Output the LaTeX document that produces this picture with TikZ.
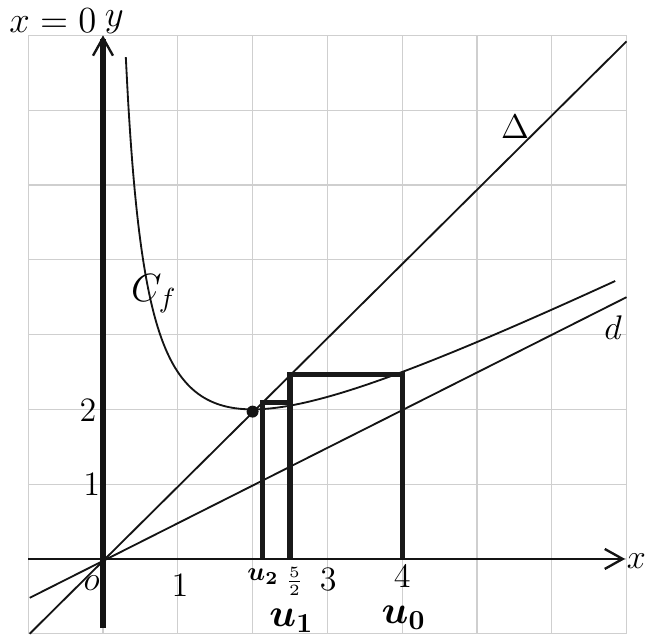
\documentclass[tikz,border=0pt]{standalone}
\usepackage{fix-cm}
\usepackage{amsmath}
\usetikzlibrary{arrows.meta}
\begin{document}
\begin{tikzpicture}[x=1cm,y=1cm,
  gridline/.style={draw=gray!38, line width=0.45pt},
  thinline/.style={draw=black!92, line width=0.7pt},
  stair/.style={draw=black!90, line width=2pt},
  lab/.style={inner sep=0pt, font=\fontsize{13}{15}\selectfont},
  smalllab/.style={inner sep=0pt, font=\fontsize{10}{11}\selectfont},
  biglab/.style={inner sep=0pt, font=\fontsize{15}{17}\selectfont},
  barb/.style={-{Straight Barb[length=6.8pt,width=7.6pt,line width=0.9pt]}}]
\useasboundingbox (-1.377,-1.043) rectangle (7.30,7.473);
% grid
\draw[gridline] (-1,-1) grid (7,7);
% lines Delta and d
\coordinate (D1) at (-0.98,-1); \coordinate (D2) at (7,6.92);
\draw[thinline] (D1) -- (D2);
\coordinate (d1) at (-0.98,-0.52); \coordinate (d2) at (7,3.5);
\draw[thinline] (d1) -- (d2);
% curve C_f
\draw[thinline] plot[domain=0.305:6.85, samples=220, smooth] (\x,{\x/2+2/\x});
% staircase
\coordinate (A0) at (4,0); \coordinate (A1) at (4,2.47);
\coordinate (B1) at (2.5,2.47); \coordinate (B0) at (2.5,0);
\coordinate (C1) at (2.5,2.09); \coordinate (C2) at (2.13,2.09);
\coordinate (C0) at (2.13,0);
\draw[stair, line join=miter] (A0) -- (A1) -- (B1) -- (B0);
\draw[stair, line join=miter] (C1) -- (C2) -- (C0);
\fill[black!92] (2,1.97) circle (0.08);
% axes
\coordinate (xa) at (-1,0); \coordinate (xb) at (6.98,0);
\coordinate (ya) at (0,-0.92); \coordinate (yb) at (0,7);
\draw[line width=1.1pt, black!92, barb] (xa) -- (xb);
\draw[line width=2.3pt, black!92, barb] (ya) -- (yb);
% labels
\node[inner sep=0pt, font=\fontsize{14}{16}\selectfont] (lx0) at (-0.67,7.2) {$x=0$};
\node[inner sep=0pt, font=\fontsize{14}{16}\selectfont] (ly) at (0.15,7.18) {$y$};
\node[lab] (lx) at (7.13,-0.03) {$x$};
\node[lab] (lo) at (-0.15,-0.32) {$o$};
\node[lab] (t1) at (1.03,-0.35) {$1$};
\node[smalllab] (tu2) at (2.14,-0.24) {$\boldsymbol{u_2}$};
\node[inner sep=0pt, font=\fontsize{8.5}{10}\selectfont] (t52) at (2.56,-0.3) {$\tfrac{5}{2}$};
\node[lab] (t3) at (3.01,-0.28) {$3$};
\node[lab] (t4) at (4.0,-0.24) {$4$};
\node[biglab] (tu1) at (2.52,-0.83) {$\boldsymbol{u_1}$};
\node[biglab] (tu0) at (4.02,-0.78) {$\boldsymbol{u_0}$};
\node[lab] (y2) at (-0.2,1.99) {$2$};
\node[lab] (y1) at (-0.15,1.0) {$1$};
\node[inner sep=0pt, font=\fontsize{15}{17}\selectfont] (cf) at (0.68,3.55) {$C_f$};
\node[lab] (ldelta) at (5.51,5.78) {$\Delta$};
\node[lab] (ld) at (6.82,3.09) {$d$};
\end{tikzpicture}
\end{document}
